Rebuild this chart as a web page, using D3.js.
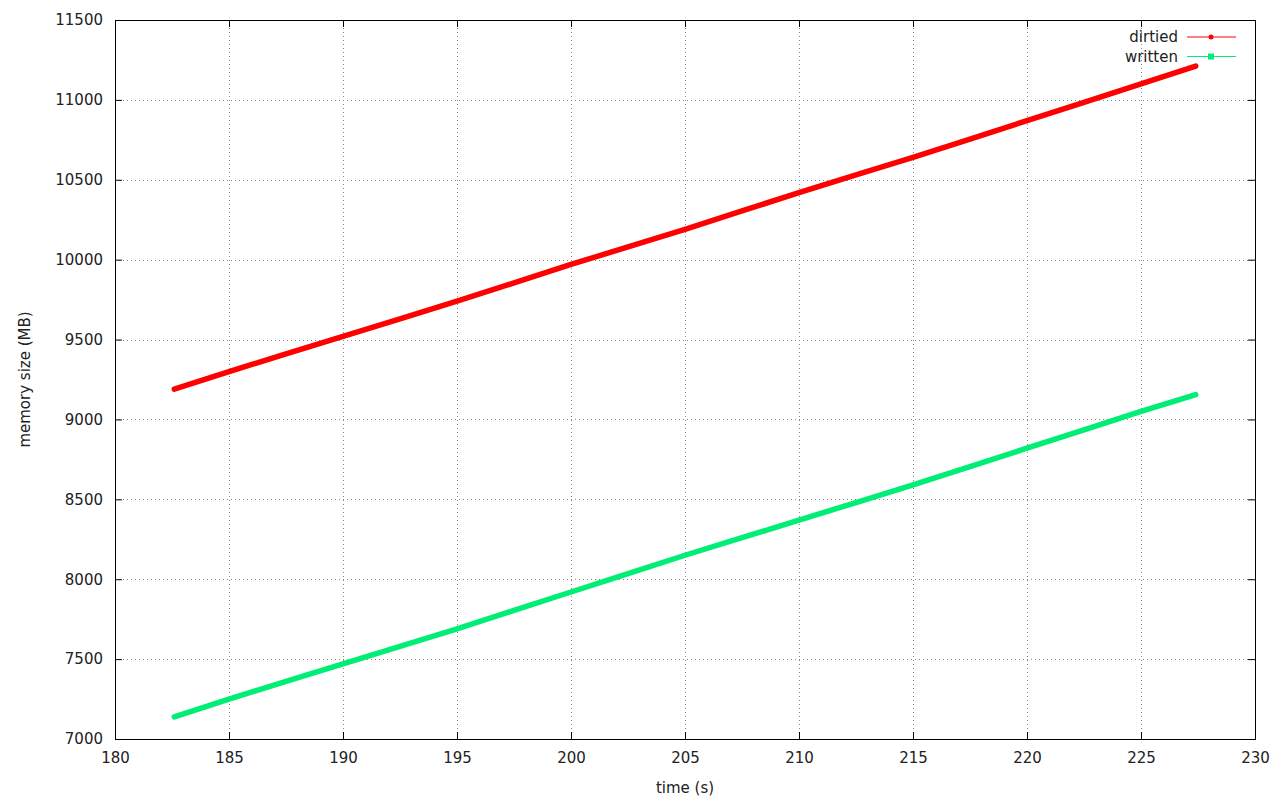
<!DOCTYPE html>
<html><head><meta charset="utf-8">
<script src="https://cdn.jsdelivr.net/npm/d3@7"></script>
<style>
html,body{margin:0;padding:0;background:#fff;}
text{font-family:"DejaVu Sans",sans-serif;font-size:15px;fill:#222;}
</style></head>
<body>
<svg id="c" width="1280" height="800"></svg>
<script>
// data (time in s, memory size in MB)
const times = [182.6, 185, 187.5, 190, 192.5, 195, 197.5, 200, 202.5, 205, 207.5, 210, 212.5, 215, 217.5, 220, 222.5, 225, 227.4];
const dirtied = [9190, 9300, 9410, 9520, 9630, 9740, 9855, 9970, 10080, 10190, 10305, 10420, 10530, 10640, 10755, 10870, 10985, 11100, 11212];
const written = [7138, 7250, 7360, 7470, 7580, 7690, 7805, 7920, 8035, 8150, 8260, 8370, 8480, 8590, 8705, 8820, 8935, 9050, 9155];
const xTicks = [180, 185, 190, 195, 200, 205, 210, 215, 220, 225, 230];
const yTicks = [7000, 7500, 8000, 8500, 9000, 9500, 10000, 10500, 11000, 11500];
const seriesNames = ["dirtied", "written"];
const seriesColors = ["#ff0000", "#00ee76"];

const svg = d3.select("#c");
const L = 115, R = 1255, T = 20, B = 739;
const x = d3.scaleLinear().domain([180, 230]).range([L, R]);
const y = d3.scaleLinear().domain([7000, 11500]).range([B, T]);

// grid
const g = svg.append("g");
xTicks.slice(1, -1).forEach(t => {
  g.append("line").attr("x1", Math.round(x(t)) + 0.5).attr("x2", Math.round(x(t)) + 0.5)
    .attr("y1", T).attr("y2", B).attr("stroke", "#888").attr("stroke-width", 1).attr("stroke-dasharray", "1,3");
});
yTicks.slice(1, -1).forEach(t => {
  g.append("line").attr("y1", Math.round(y(t)) + 0.5).attr("y2", Math.round(y(t)) + 0.5)
    .attr("x1", L).attr("x2", R).attr("stroke", "#888").attr("stroke-width", 1).attr("stroke-dasharray", "1,3");
});

// axes
const xb = d3.axisBottom(x).tickValues(xTicks).tickSize(-7).tickPadding(13).tickFormat(d3.format("d"));
const xt = d3.axisTop(x).tickValues(xTicks).tickSize(-7).tickFormat("");
const yl = d3.axisLeft(y).tickValues(yTicks).tickSize(-7).tickPadding(12).tickFormat(d3.format("d"));
const yr = d3.axisRight(y).tickValues(yTicks).tickSize(-7).tickFormat("");
function style(sel){
  sel.select(".domain").remove();
  sel.selectAll("line").attr("stroke", "#000");
  sel.selectAll("text").style("font-size", "15px").attr("fill", "#222");
}
svg.append("g").attr("transform", `translate(0,${B})`).call(xb).call(style);
svg.append("g").attr("transform", `translate(0,${T})`).call(xt).call(style);
svg.append("g").attr("transform", `translate(${L},0)`).call(yl).call(style);
svg.append("g").attr("transform", `translate(${R},0)`).call(yr).call(style);
svg.append("rect").attr("x", L + 0.5).attr("y", T + 0.5).attr("width", R - L).attr("height", B - T)
  .attr("fill", "none").attr("stroke", "#000").attr("stroke-width", 1);

// labels
svg.append("text").attr("x", (L + R) / 2).attr("y", 793).attr("text-anchor", "middle").text("time (s)");
svg.append("text").attr("transform", `translate(30,${(T + B) / 2}) rotate(-90)`).attr("text-anchor", "middle").text("memory size (MB)");

// lines
const line = d3.line().x((d, i) => x(times[i])).y(d => y(d));
[dirtied, written].forEach((s, k) => {
  svg.append("path").datum(s).attr("d", line).attr("fill", "none")
    .attr("stroke", seriesColors[k]).attr("stroke-width", 5.5).attr("stroke-linecap", "round");
});

// legend
seriesNames.forEach((n, k) => {
  const yy = 37 + k * 19.5;
  svg.append("text").attr("x", 1178).attr("y", yy + 5).attr("text-anchor", "end").text(n);
  svg.append("line").attr("x1", 1187).attr("x2", 1236).attr("y1", yy).attr("y2", yy)
    .attr("stroke", seriesColors[k]).attr("stroke-width", 1);
  if (k === 0) svg.append("circle").attr("cx", 1211).attr("cy", yy).attr("r", 2.5).attr("fill", seriesColors[k]);
  else svg.append("rect").attr("x", 1208).attr("y", yy - 3).attr("width", 6).attr("height", 6).attr("fill", seriesColors[k]);
});
</script>
</body></html>
